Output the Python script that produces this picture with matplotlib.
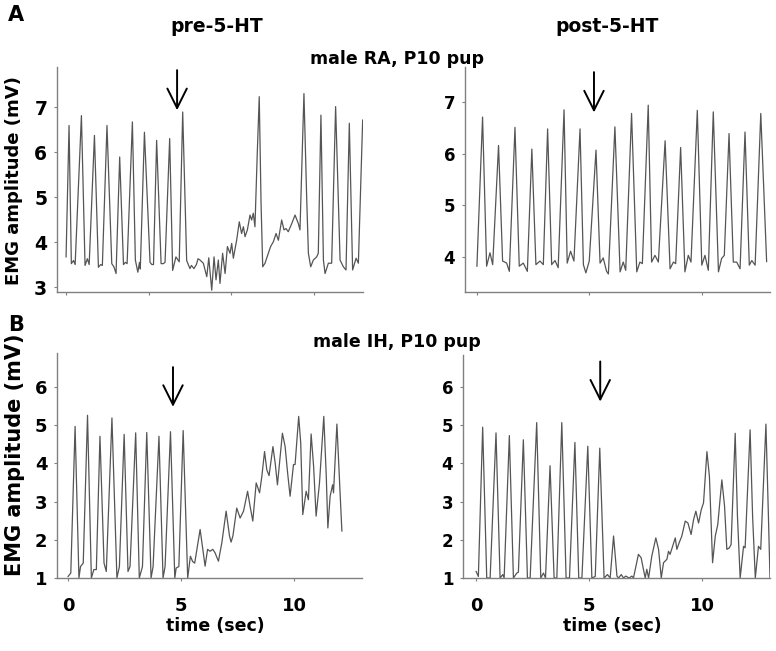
import matplotlib
matplotlib.use("Agg")
import matplotlib.pyplot as plt

# ---- traces (time in s, EMG amplitude in mV) ----
# A, pre-5-HT (male RA)
ra_pre_t = [0.00, 0.18, 0.32, 0.45, 0.55, 0.93, 1.15, 1.29, 1.40, 1.72, 1.96, 2.10, 2.20,
            2.48, 2.77, 2.90, 3.03, 3.25, 3.48, 3.60, 3.70, 4.02, 4.20, 4.35, 4.45, 4.50,
            4.75, 5.09, 5.20, 5.30, 5.49, 5.76, 5.90, 6.00, 6.28, 6.46, 6.66, 6.86, 7.07,
            7.31, 7.51, 7.60, 7.75, 7.90, 8.00, 8.12, 8.32, 8.53, 8.65, 8.83, 8.97, 9.09,
            9.23, 9.33, 9.49, 9.64, 9.78, 9.94, 10.04, 10.14, 10.34, 10.50, 10.64, 10.75,
            10.85, 10.99, 11.15, 11.25, 11.35, 11.45, 11.59, 11.71, 11.82, 11.92, 12.06,
            12.26, 12.40, 12.57, 12.73, 12.87, 13.07, 13.21, 13.33, 13.47, 13.68, 13.88,
            14.08, 14.18, 14.42, 14.59, 14.69, 14.83, 14.99, 15.19, 15.29, 15.45, 15.60,
            15.70, 15.90, 16.10, 16.34, 16.61, 16.81, 16.97, 17.17, 17.37, 17.58, 17.72,
            17.98]
ra_pre_v = [3.67, 6.59, 3.52, 3.59, 3.50, 6.81, 3.48, 3.63, 3.50, 6.37, 3.44, 3.50, 3.48,
            6.59, 3.52, 3.45, 3.30, 5.89, 3.50, 3.55, 3.52, 6.67, 3.60, 3.33, 3.55, 3.40,
            6.44, 3.55, 3.50, 3.50, 6.26, 3.52, 3.52, 3.55, 6.30, 3.37, 3.67, 3.56, 6.89,
            3.59, 3.41, 3.48, 3.41, 3.50, 3.63, 3.60, 3.53, 3.23, 3.65, 2.93, 3.67, 3.16,
            3.60, 3.08, 3.75, 3.30, 3.90, 3.75, 3.97, 3.64, 4.04, 4.45, 4.19, 4.34, 4.12,
            4.27, 4.60, 4.49, 4.64, 4.34, 5.97, 7.23, 4.86, 3.45, 3.53, 3.75, 3.90, 4.01,
            4.19, 4.04, 4.49, 4.27, 4.30, 4.23, 4.41, 4.60, 4.41, 4.27, 7.30, 4.93, 3.75,
            3.45, 3.60, 3.67, 3.75, 6.82, 3.60, 3.30, 3.53, 3.53, 7.01, 3.60, 3.45, 3.38,
            6.64, 3.38, 3.64, 3.53, 6.71]

# A, post-5-HT (male RA)
ra_post_t = [0.00, 0.25, 0.43, 0.58, 0.70, 0.96, 1.14, 1.32, 1.44, 1.69, 1.88, 2.06, 2.24,
             2.44, 2.62, 2.80, 2.95, 3.14, 3.32, 3.47, 3.61, 3.87, 4.01, 4.16, 4.31, 4.58,
             4.73, 4.84, 4.99, 5.29, 5.47, 5.61, 5.76, 5.84, 6.13, 6.36, 6.50, 6.61, 6.87,
             7.10, 7.24, 7.35, 7.61, 7.76, 7.91, 8.06, 8.36, 8.58, 8.73, 8.83, 9.05, 9.24,
             9.39, 9.51, 9.79, 9.99, 10.13, 10.28, 10.50, 10.73, 10.87, 10.99, 11.20, 11.39,
             11.54, 11.69, 11.91, 12.10, 12.21, 12.36, 12.61, 12.87]
ra_post_v = [3.82, 6.71, 3.82, 4.08, 3.85, 6.16, 3.92, 3.88, 3.72, 6.51, 3.82, 3.88, 3.72,
             6.09, 3.85, 3.92, 3.85, 6.48, 3.85, 3.93, 3.79, 6.85, 3.88, 4.11, 3.92, 6.48,
             3.85, 3.69, 3.92, 6.07, 3.88, 3.98, 3.72, 3.67, 6.52, 3.71, 3.90, 3.74, 6.78,
             3.71, 3.90, 3.87, 6.94, 3.90, 4.03, 3.90, 6.25, 3.77, 3.90, 3.87, 6.12, 3.71,
             4.03, 3.90, 6.84, 3.84, 4.03, 3.74, 6.81, 3.71, 3.97, 4.03, 6.39, 3.90, 3.90,
             3.77, 6.42, 3.84, 3.93, 3.84, 6.78, 3.91]

# B, pre-5-HT (male IH)
ih_pre_t = [0.00, 0.12, 0.31, 0.48, 0.55, 0.67, 0.86, 1.03, 1.14, 1.25, 1.41, 1.59, 1.69,
            1.94, 2.16, 2.27, 2.48, 2.65, 2.74, 2.99, 3.15, 3.29, 3.48, 3.67, 3.76, 4.02,
            4.20, 4.29, 4.53, 4.72, 4.78, 4.90, 5.09, 5.29, 5.41, 5.51, 5.60, 5.84, 5.96,
            6.06, 6.17, 6.28, 6.40, 6.50, 6.65, 6.80, 6.99, 7.14, 7.21, 7.29, 7.46, 7.61,
            7.76, 7.94, 8.05, 8.17, 8.32, 8.47, 8.57, 8.69, 8.79, 8.89, 9.06, 9.16, 9.26,
            9.38, 9.48, 9.60, 9.71, 9.82, 9.97, 10.04, 10.20, 10.29, 10.38, 10.53, 10.63,
            10.75, 10.86, 10.97, 11.12, 11.31, 11.42, 11.49, 11.59, 11.70, 11.74, 11.89,
            12.01, 12.11]
ih_pre_v = [1.04, 1.13, 4.97, 1.00, 1.30, 1.39, 5.26, 1.00, 1.22, 1.22, 4.71, 1.39, 1.17,
            5.19, 1.00, 1.30, 4.76, 1.17, 1.30, 4.80, 1.00, 1.30, 4.81, 1.00, 1.30, 4.71,
            1.00, 1.30, 4.83, 1.00, 1.26, 1.30, 4.86, 1.00, 1.57, 1.43, 1.39, 2.27, 1.75,
            1.31, 1.75, 1.70, 1.75, 1.66, 1.44, 1.92, 2.75, 2.10, 1.94, 2.10, 2.83, 2.57,
            2.75, 3.27, 2.88, 2.49, 3.49, 3.23, 3.66, 4.31, 3.83, 3.68, 4.44, 4.01, 3.44,
            4.18, 4.79, 4.44, 3.75, 3.14, 3.97, 3.97, 5.23, 4.53, 2.66, 3.27, 3.05, 4.77,
            3.92, 2.62, 3.49, 5.23, 3.66, 2.31, 3.14, 3.44, 3.23, 5.03, 3.49, 2.23]

# B, post-5-HT (male IH)
ih_post_t = [0.00, 0.10, 0.29, 0.47, 0.62, 0.88, 1.06, 1.18, 1.24, 1.47, 1.65, 1.80, 1.87,
             2.09, 2.27, 2.39, 2.68, 2.86, 2.98, 3.07, 3.27, 3.45, 3.57, 3.79, 3.98, 4.13,
             4.37, 4.54, 4.68, 4.94, 5.12, 5.27, 5.47, 5.66, 5.81, 5.93, 6.08, 6.23, 6.30,
             6.42, 6.52, 6.62, 6.77, 6.89, 6.96, 7.18, 7.30, 7.40, 7.48, 7.55, 7.63, 7.77,
             7.95, 8.07, 8.19, 8.29, 8.44, 8.51, 8.58, 8.81, 8.88, 8.98, 9.10, 9.25, 9.37,
             9.51, 9.62, 9.72, 9.84, 9.96, 10.06, 10.21, 10.32, 10.46, 10.58, 10.69, 10.87,
             10.99, 11.09, 11.20, 11.28, 11.46, 11.56, 11.68, 11.83, 11.90, 12.12, 12.23,
             12.35, 12.49, 12.59, 12.82, 12.93, 13.00]
ih_post_v = [1.17, 1.04, 4.95, 1.00, 1.00, 4.80, 1.00, 1.09, 1.00, 4.73, 1.00, 1.13, 1.15,
             4.62, 1.00, 1.00, 5.07, 1.00, 1.13, 1.00, 3.94, 1.00, 1.00, 5.07, 1.00, 1.00,
             4.55, 1.00, 1.00, 4.45, 1.00, 1.04, 4.40, 1.00, 1.09, 1.00, 2.10, 1.05, 1.00,
             1.09, 1.00, 1.05, 1.00, 1.05, 1.00, 1.62, 1.53, 1.23, 1.00, 1.23, 1.00, 1.57,
             2.05, 1.75, 1.00, 1.40, 1.49, 1.70, 1.62, 2.05, 1.75, 1.92, 2.10, 2.49, 2.44,
             2.14, 2.53, 2.75, 2.44, 2.79, 2.97, 4.31, 3.66, 1.40, 2.10, 2.40, 3.57, 2.88,
             1.75, 1.79, 1.88, 4.79, 2.62, 1.00, 1.83, 1.79, 4.88, 2.62, 1.00, 1.83, 1.75,
             5.03, 2.62, 1.00]

# arrows: time, tail and tip amplitude
arrow_t = [6.73, 5.20, 4.64, 5.49]
arrow_top = [7.82, 7.58, 6.52, 6.67]
arrow_tip = [6.93, 6.80, 5.48, 5.62]

W, H = 776, 651
fig = plt.figure(figsize=(W / 100, H / 100), dpi=100)
plt.rcParams['font.family'] = ['DejaVu Sans']


def box(l, t, r, b):
    return [l / W, 1 - b / H, (r - l) / W, (b - t) / H]


panels = [
    # rect px, data, xlim, ylim, yticks, xticks, show xlabels, tick font size
    (box(57, 67, 363, 292), ra_pre_t, ra_pre_v, (-0.55, 18.0), (2.89, 7.89),
     [3, 4, 5, 6, 7], [0, 5, 10, 15], False, 13.5),
    (box(465, 67, 770, 292), ra_post_t, ra_post_v, (-0.53, 13.02), (3.32, 7.68),
     [4, 5, 6, 7], [0, 5, 10], False, 12),
    (box(57, 353, 362, 578), ih_pre_t, ih_pre_v, (-0.49, 13.0), (1.0, 6.89),
     [1, 2, 3, 4, 5, 6], [0, 5, 10], True, 13),
    (box(463, 355, 770, 578), ih_post_t, ih_post_v, (-0.58, 13.0), (1.0, 6.84),
     [1, 2, 3, 4, 5, 6], [0, 5, 10], True, 12),
]

for i, (rect, t, v, xl, yl, yt, xt, xlab, fs) in enumerate(panels):
    ax = fig.add_axes(rect)
    ax.plot(t, v, color='#555555', lw=0.9)
    ax.set_xlim(*xl)
    ax.set_ylim(*yl)
    ax.set_yticks(yt)
    ax.set_xticks(xt)
    for s in ['top', 'right']:
        ax.spines[s].set_visible(False)
    for s in ['left', 'bottom']:
        ax.spines[s].set_color('#808080')
        ax.spines[s].set_linewidth(1.0)
    ax.tick_params(axis='y', length=2.5, color='#808080', pad=4.5,
                   labelsize=fs)
    ax.tick_params(axis='x', length=2.5, color='#808080', pad=11,
                   labelsize=13, labelbottom=xlab)
    for lab in ax.get_xticklabels() + ax.get_yticklabels():
        lab.set_fontweight('bold')
    ax.annotate('', xy=(arrow_t[i], arrow_tip[i]), xytext=(arrow_t[i], arrow_top[i]),
                arrowprops=dict(arrowstyle='->,head_length=0.7,head_width=0.35',
                                lw=1.4, color='black', mutation_scale=20,
                                shrinkA=0, shrinkB=0))


def ftext(x, y, s, **kw):
    fig.text(x / W, 1 - y / H, s, fontweight='bold', **kw)


ftext(8, 15, 'A', fontsize=15, ha='left', va='center')
ftext(8, 325, 'B', fontsize=15, ha='left', va='center')
ftext(217, 27, 'pre-5-HT', fontsize=13.5, ha='center', va='center')
ftext(607, 27, 'post-5-HT', fontsize=13.5, ha='center', va='center')
ftext(397, 59, 'male RA, P10 pup', fontsize=12.5, ha='center', va='center')
ftext(397, 342, 'male IH, P10 pup', fontsize=12.5, ha='center', va='center')
ftext(14, 181, 'EMG amplitude (mV)', fontsize=13, ha='center', va='center', rotation=90)
ftext(15, 455, 'EMG amplitude (mV)', fontsize=15, ha='center', va='center', rotation=90)
ftext(215, 626, 'time (sec)', fontsize=12.5, ha='center', va='center')
ftext(612, 626, 'time (sec)', fontsize=12.5, ha='center', va='center')

fig.savefig('out.png', dpi=100)
